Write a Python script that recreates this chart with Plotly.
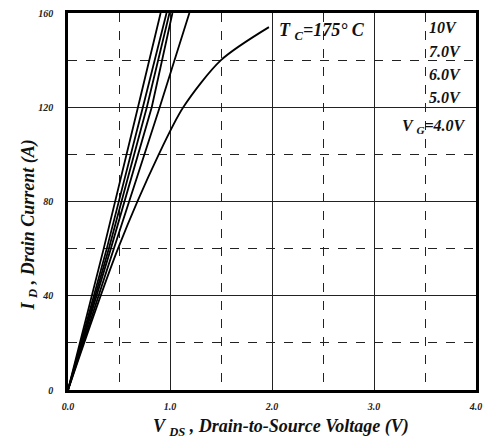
import plotly.graph_objects as go

# Output characteristics, drain current vs drain-to-source voltage (Tc = 175 C)
i_d_steps = [0, 60, 120, 160]
v_ds_c1 = [0, 0.35, 0.686, 0.908]
v_ds_c2 = [0, 0.38, 0.734, 0.966]
v_ds_c3 = [0, 0.40, 0.773, 0.995]
v_ds_c4 = [0, 0.42, 0.821, 1.024]
i_d_c5 = [0, 60, 120, 160]
v_ds_c5 = [0, 0.45, 0.899, 1.19]
# lowest gate drive bends over and ends below the top of the scale
v_ds_4v = [0, 0.49, 0.89, 1.13, 1.5, 1.97]
i_d_4v = [0, 60, 100, 120, 140, 154]

gate_labels = ["10V", "7.0V", "6.0V", "5.0V"]
x_ticks = [0, 1, 2, 3, 4]
x_tick_text = ["0.0", "1.0", "2.0", "3.0", "4.0"]
y_ticks = [0, 40, 80, 120, 160]

SERIF = "Liberation Serif"
fig = go.Figure()

curves = [(v_ds_c1, i_d_steps, "linear"), (v_ds_c2, i_d_steps, "linear"),
          (v_ds_c3, i_d_steps, "linear"), (v_ds_c4, i_d_steps, "linear"),
          (v_ds_c5, i_d_c5, "linear"), (v_ds_4v, i_d_4v, "spline")]
for vx, iy, shp in curves:
    fig.add_trace(go.Scatter(
        x=vx, y=iy, mode="lines",
        line=dict(color="black", width=1.8, shape=shp, smoothing=0.8),
        showlegend=False, hoverinfo="skip",
    ))

axis_common = dict(
    showline=True, mirror=True, linecolor="black", linewidth=2.5,
    showgrid=True, gridcolor="#222222", gridwidth=1.3,
    zeroline=False, ticks="",
    tickfont=dict(family=SERIF, size=10, color="#222222", style="italic", weight="bold"),
)

fig.update_xaxes(
    range=[0, 4], tickvals=x_ticks, ticktext=x_tick_text, ticklabelstandoff=5,
    minor=dict(dtick=0.5, showgrid=True, griddash="dash", gridcolor="#222222", gridwidth=1.3),
    **axis_common,
)
fig.update_yaxes(
    range=[0, 160], tickvals=y_ticks, ticklabelstandoff=10,
    minor=dict(dtick=20, showgrid=True, griddash="dash", gridcolor="#222222", gridwidth=1.3),
    **axis_common,
)

W, H = 489, 444
L, R, T, B = 68, 7, 11, 54
fig.update_layout(
    width=W, height=H,
    margin=dict(l=L, r=R, t=T, b=B),
    paper_bgcolor="white", plot_bgcolor="white",
)

pw, ph = W - L - R, H - T - B

def px_to_paper(px, py):
    return (px - L) / pw, (H - B - py) / ph

label_font = dict(family=SERIF, size=16, color="#111111", style="italic", weight="bold")
title_font = dict(label_font, size=18)

# axis titles placed in pixel terms
ax, ay = px_to_paper(284, 428)
fig.add_annotation(x=ax, y=ay, xref="paper", yref="paper", showarrow=False,
                   xanchor="center", yanchor="middle",
                   text="V <sub>DS</sub> , Drain-to-Source Voltage (V)", font=title_font)
ax, ay = px_to_paper(29, 224)
fig.add_annotation(x=ax, y=ay, xref="paper", yref="paper", showarrow=False, textangle=-90,
                   xanchor="center", yanchor="middle",
                   text="I <sub>D</sub> , Drain Current (A)", font=title_font)

# case temperature note
fig.add_annotation(x=2.05, y=152, xref="x", yref="y", showarrow=False, xanchor="left",
                   text="T <sub>C</sub>=175° C", font=dict(label_font, size=18))

# gate voltage labels on the right
label_y = [153.8, 143.8, 133.8, 124.3]
for txt, yv in zip(gate_labels, label_y):
    fig.add_annotation(x=3.52, y=yv, xref="x", yref="y", showarrow=False, xanchor="left",
                       text=txt, font=label_font)
fig.add_annotation(x=3.25, y=111.8, xref="x", yref="y", showarrow=False, xanchor="left",
                   text="V <sub>G</sub>=4.0V", font=label_font)

fig.write_html("out.html")
